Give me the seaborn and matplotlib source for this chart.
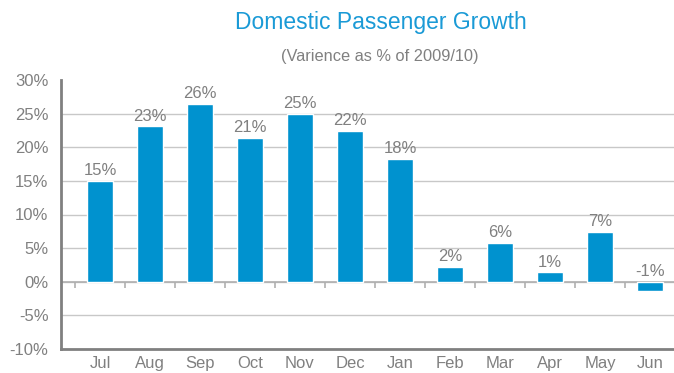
"""Domestic passenger growth bar chart
"""

import numpy as np
import matplotlib
matplotlib.use('Agg')
import matplotlib.pyplot as plt
import seaborn as sns
import pandas as pd

months = ['Jul', 'Aug', 'Sep', 'Oct', 'Nov', 'Dec', 'Jan', 'Feb', 'Mar', 'Apr', 'May', 'Jun']
growth = [15.0, 23.1, 26.4, 21.4, 25.0, 22.4, 18.3, 2.2, 5.8, 1.4, 7.4, -1.4]
y_ticks = [-10, -5, 0, 5, 10, 15, 20, 25, 30]

BLUE = '#0092cf'
GREY = '#808080'

sns.set_style('white')
plt.rcParams['font.family'] = ['Liberation Sans', 'DejaVu Sans']

df = pd.DataFrame({'month': months, 'growth': growth})

fig = plt.figure(figsize=(6.74, 3.73), dpi=100)
ax = fig.add_axes([61 / 674, 24 / 373, 1.0, 269 / 373])

sns.barplot(data=df, x='month', y='growth', color=BLUE, width=0.52,
            saturation=1, ax=ax, zorder=3)

ax.set_ylim(-10, 30)
ax.set_xlim(-0.78, 12.7)
ax.set_yticks(y_ticks)
ax.set_yticklabels([f'{t}%' for t in y_ticks])
ax.set_xlabel('')
ax.set_ylabel('')

# grid lines, zero line with category ticks
for t in y_ticks[1:-1]:
    ax.axhline(t, color='#c8c8c8', lw=1, zorder=1)
ax.axhline(0, color='#b0b0b0', lw=1.2, zorder=2)
ax.vlines(np.arange(-0.5, 11, 1), -0.9, 0, color='#b0b0b0', lw=1.2, zorder=2)

for side in ['top', 'right']:
    ax.spines[side].set_visible(False)
for side in ['left', 'bottom']:
    ax.spines[side].set_color(GREY)
    ax.spines[side].set_linewidth(2)

ax.tick_params(axis='both', length=0, colors=GREY, labelsize=12)
ax.tick_params(axis='x', pad=5)
ax.tick_params(axis='y', pad=9)

# value labels
for i, v in enumerate(growth):
    ax.annotate(f'{round(v)}%', (i, max(v, 0)), xytext=(0, 2), textcoords='offset points',
                ha='center', va='bottom', color=GREY, fontsize=12, zorder=4)

fig.text(381 / 674, 1 - 23 / 373, 'Domestic Passenger Growth', color='#1a9ad6',
         fontsize=16.5, ha='center', va='center')
fig.text(380 / 674, 1 - 57 / 373, '(Varience as % of 2009/10)', color=GREY,
         fontsize=11.8, ha='center', va='center')

fig.savefig('out.png', dpi=100)
